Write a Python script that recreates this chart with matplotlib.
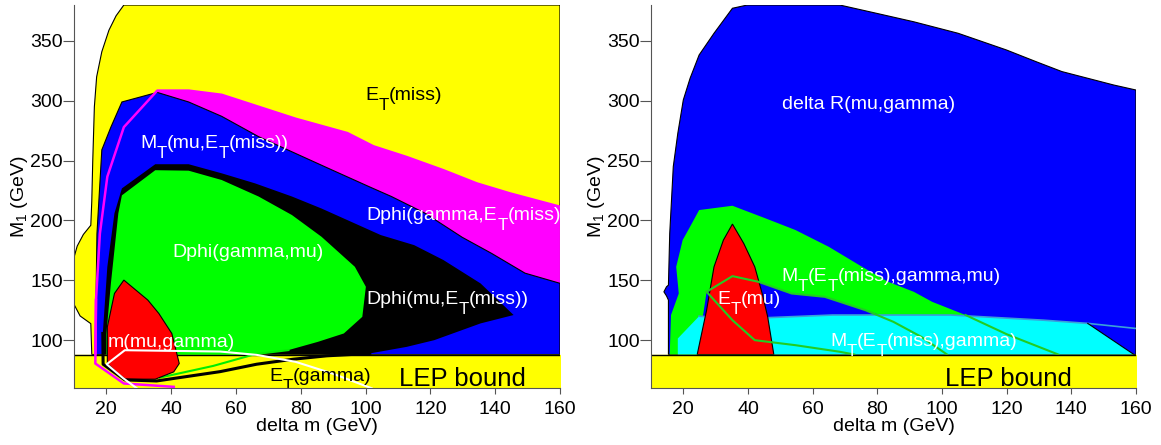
import matplotlib.pyplot as plt

plt.rcParams['font.family'] = ['Liberation Sans', 'DejaVu Sans']
plt.rcParams['mathtext.default'] = 'regular'

# --- left panel: cut regions (delta m, M1) ---
etmiss_dm = [15.5, 15.2, 11.9, 10.0, 10.0, 11.0, 12.9, 15.2, 15.5, 15.8, 16.3, 17.0, 18.6, 20.8, 23.0, 25.4, 160, 160]
etmiss_m1 = [88, 113.8, 120.2, 130, 169, 178.6, 188.3, 196, 216, 249.7, 295, 320, 341, 359, 371, 380, 380, 88]

dphi_ge_dm = [40.8, 25.4, 16.6, 16.8, 18.0, 20.3, 25.4, 35.7, 45.4, 55.6, 67.0, 78.4, 94.4, 102.4, 112.7, 124.0, 134.3, 144.6, 160]
dphi_ge_m1 = [61, 63.8, 80.5, 133.5, 189, 236.6, 278, 308.5, 308.5, 305, 295, 285, 273, 262, 253, 242, 231, 222.6, 211.5]

mt_dm = [16.5, 16.8, 17.1, 18.6, 21.4, 24.8, 35.7, 45.4, 55.6, 67.0, 78.4, 89.8, 101.3, 108.0, 118.4, 129.8, 138.9, 149.2, 160, 160]
mt_m1 = [88, 133, 189, 259, 278, 299, 307, 299, 287, 270, 256, 242, 228, 220, 206, 186, 172.5, 156, 147.5, 88]

dphi_me_dm = [24.8, 35.1, 45.4, 55.6, 65.9, 77.3, 86.4, 94.4, 104.7, 115.0, 124.0, 135.5, 145.7, 135.5, 121.2, 112.7,
              101.3, 88.0, 77.7, 66.4, 55.1, 35.5, 25.7, 19.0, 18.9, 20.3, 22.5]
dphi_me_m1 = [226.8, 247, 247, 239.4, 231, 220, 210, 200.3, 187.8, 179.4, 167, 147.4, 121, 114, 100, 94.4,
              88.9, 86.9, 84.1, 79.9, 73.7, 65.9, 66.8, 79.9, 105.6, 161.3, 206]

dphi_gm_dm = [24.8, 35.1, 45.4, 55.6, 67.0, 77.3, 86.4, 96.7, 100.1, 99.0, 93.3, 85.3, 76.2, 65.9, 53.0, 36.5, 25.7, 20.0, 20.0, 21.4, 23.7]
dphi_gm_m1 = [221, 242, 241.6, 233.8, 220, 204.5, 186.4, 161.3, 144.6, 119.5, 105.6, 98.6, 91.7, 88.3, 78.5, 68.7, 67.4, 80, 105, 147.4, 206]

mmg_dm = [25.4, 32.8, 36.2, 40.2, 42.5, 40.8, 35.1, 25.4, 20.3, 20.3, 22.5]
mmg_m1 = [150.2, 133.5, 122.3, 105.6, 80.5, 73.5, 67.4, 67.4, 80.5, 111, 139]

etg_dm = [29.4, 25.2, 20.1, 25.7, 55.1, 66.4, 78.4, 89.8, 101.9]
etg_m1 = [59.8, 68.2, 79.9, 91.6, 90.5, 87.7, 81.9, 72.1, 59.8]

# --- right panel ---
dr_dm = [15.4, 15.4, 14.8, 14.0, 14.8, 15.4, 15.8, 16.9, 18.3, 20.0, 22.1, 24.9, 29.5, 35.2, 39.8, 68.4, 79.9,
         91.3, 105.0, 119.9, 129.1, 137.1, 145.1, 153.1, 160, 160]
dr_m1 = [88, 133.5, 137, 140.4, 144.6, 146, 189, 245, 272.8, 300.7, 318.8, 338.3, 356.4, 377.3, 380, 380, 373,
         366, 356.4, 342.5, 332.7, 324.4, 318.8, 313.2, 309, 88]

mt3_dm = [15.8, 16.2, 18.6, 17.8, 19.8, 22.1, 24.9, 35.2, 45.5, 54.7, 65.0, 75.3, 83.3, 91.3, 97.0, 107.3,
          80.8, 76.4, 63.8, 53.5, 43.2, 35.2, 27.2, 24.3, 18.3]
mt3_m1 = [88, 121, 139, 161.3, 183.6, 194.8, 208.7, 212.3, 201.7, 192, 178, 161.3, 148.8, 140.4, 132, 121,
          121, 125, 136.2, 139, 148.8, 153.5, 140.4, 88, 88]

mt2_dm = [18.3, 18.3, 24.9, 38.7, 66.1, 102.8, 131.4, 145.1, 159.4]
mt2_m1 = [88, 101.4, 120, 118, 121, 121, 116.7, 114, 88]

etmu_dm = [24.3, 27.2, 29.5, 32.4, 35.2, 38.7, 42.1, 44.4, 46.1, 48.0]
etmu_m1 = [88, 125, 161.3, 183.6, 197, 180.8, 161.3, 139, 119.5, 88]

line1_dm = [27.2, 35.2, 43.2, 53.5, 63.8, 76.4, 85.0, 93.6, 101.6]
line1_m1 = [140.4, 153.5, 148.8, 139, 136.2, 125, 115.3, 102.8, 88]
line2_dm = [27.2, 35.2, 42.1, 54.7, 68.4, 72.9]
line2_m1 = [140.4, 116.7, 100, 95.8, 90.3, 88]
line3_dm = [107.3, 120.0, 136.0]
line3_m1 = [121, 105, 88]

lep_limit = 88

fig = plt.figure(figsize=(11.61, 4.45), dpi=100)
ax1 = fig.add_axes([0.0637, 0.128, 0.4186, 0.8607])
ax2 = fig.add_axes([0.5607, 0.128, 0.4177, 0.8607])


def style(ax):
    ax.set_xlim(10, 160)
    ax.set_ylim(60, 380)
    for s in ['top', 'right']:
        ax.spines[s].set_visible(False)
    for s in ['left', 'bottom']:
        ax.spines[s].set_color('#555555')
        ax.spines[s].set_zorder(10)
    ax.set_xticks(range(20, 161, 20))
    ax.set_yticks(range(100, 351, 50))
    ax.tick_params(axis='x', direction='out', length=4, pad=5, labelsize=14, color='#555555')
    ax.tick_params(axis='y', direction='out', length=8, pad=0, labelsize=14, color='#555555')
    ax.set_xlabel('delta m (GeV)', fontsize=14, labelpad=0)
    ax.set_ylabel('M$_1$ (GeV)', fontsize=14)
    ax.yaxis.set_label_coords(-0.09, 0.5)


def lep(ax):
    ax.fill_between([10, 160], 60, lep_limit, color='#ffff00', zorder=4)
    ax.plot([10, 160], [lep_limit, lep_limit], color='black', lw=1, zorder=4)


def label(ax, x, y, s, color='white', size=14):
    # '_X' -> X drawn as a big, low subscript (like the original plot)
    parts = s.split('_')
    t = ax.text(x, y, parts[0], fontsize=size, color=color, zorder=8, va='baseline', clip_on=True)
    for p in parts[1:]:
        t = ax.annotate(p[0], xy=(1, 0), xycoords=t, xytext=(0, -0.47 * size), textcoords='offset points',
                        fontsize=size * 0.87, color=color, zorder=8, va='bottom', annotation_clip=False)
        t.set_clip_on(True)
        t.set_clip_box(ax.bbox)
        if len(p) > 1:
            t = ax.annotate(p[1:], xy=(1, 0), xycoords=t, xytext=(0, 0.47 * size), textcoords='offset points',
                            fontsize=size, color=color, zorder=8, va='bottom', annotation_clip=False)
            t.set_clip_on(True)
            t.set_clip_box(ax.bbox)


# left
ax1.fill(etmiss_dm, etmiss_m1, color='#ffff00', ec='black', lw=0.8)
ax1.fill(dphi_ge_dm + [160], dphi_ge_m1 + [60], color='#ff00ff', lw=0)
ax1.fill(mt_dm, mt_m1, color='#0000ff', ec='black', lw=0.8)
ax1.fill(dphi_me_dm, dphi_me_m1, color='black', lw=0)
ax1.fill(dphi_gm_dm, dphi_gm_m1, color='#00ff00', lw=0)
ax1.plot(dphi_ge_dm, dphi_ge_m1, color='#ff00ff', lw=1.8, zorder=3)
lep(ax1)
ax1.plot(dphi_gm_dm[12:16], dphi_gm_m1[12:16], color='#00ee00', lw=1.5, zorder=5)
ax1.fill(mmg_dm, mmg_m1, color='#ff0000', ec='black', lw=0.8, zorder=5)
ax1.plot(dphi_me_dm[16:25], dphi_me_m1[16:25], color='black', lw=2.2, zorder=6)
ax1.plot(dphi_ge_dm[:4], dphi_ge_m1[:4], color='#ff00ff', lw=1.8, zorder=6)
ax1.plot(etg_dm, etg_m1, color='white', lw=1.5, zorder=7)

label(ax1, 100, 301, 'E_T(miss)', color='black')
label(ax1, 30.4, 260.7, 'M_T(mu,E_T(miss))')
label(ax1, 100.3, 200.4, 'Dphi(gamma,E_T(miss))')
label(ax1, 40.3, 169.1, 'Dphi(gamma,mu)')
label(ax1, 100.3, 130.6, 'Dphi(mu,E_T(miss))')
label(ax1, 20.3, 94.4, 'm(mu,gamma)')
label(ax1, 70.4, 65.8, 'E_T(gamma)', color='black')
label(ax1, 110.4, 61.6, 'LEP bound', color='black', size=18.5)
style(ax1)

# right
ax2.fill(dr_dm, dr_m1, color='#0000ff', ec='black', lw=0.8)
ax2.fill(mt3_dm, mt3_m1, color='#00ff00', lw=0)
ax2.fill(mt2_dm, mt2_m1, color='#00ffff', lw=0)
ax2.plot(mt2_dm[2:8] + [160], mt2_m1[2:8] + [109.8], color='#3aa0d8', lw=1.2, zorder=3)
ax2.plot(mt2_dm[7:], mt2_m1[7:], color='black', lw=0.8, zorder=3)
ax2.fill(etmu_dm, etmu_m1, color='#ff0000', ec='black', lw=0.8, zorder=3)
for dm, m1 in [(line1_dm, line1_m1), (line2_dm, line2_m1), (line3_dm, line3_m1)]:
    ax2.plot(dm, m1, color='#22cc22', lw=1.5, zorder=3.5)
lep(ax2)

label(ax2, 50.4, 293.4, 'delta R(mu,gamma)')
label(ax2, 50.4, 149.6, 'M_T(E_T(miss),gamma,mu)')
label(ax2, 30.5, 130.6, 'E_T(mu)')
label(ax2, 65.6, 95.3, 'M_T(E_T(miss),gamma)')
label(ax2, 100.9, 61.6, 'LEP bound', color='black', size=18.5)
style(ax2)

fig.savefig('out.png', dpi=100)
